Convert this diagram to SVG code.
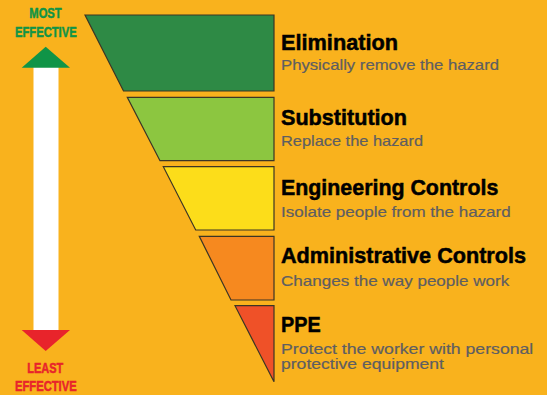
<svg xmlns="http://www.w3.org/2000/svg" width="547" height="395" viewBox="0 0 547 395">
<style>
.band{stroke:#3b3526;stroke-width:1.2;stroke-linejoin:miter}
.title{font-family:"Liberation Sans",Arial,sans-serif;font-weight:bold;font-size:22px;fill:#000;stroke:#000;stroke-width:0.5}
.sub{font-family:"Liberation Sans",Arial,sans-serif;font-size:15px;fill:#5e5e62;stroke:#5e5e62;stroke-width:0.2}
.lbl{font-family:"Liberation Sans",Arial,sans-serif;font-weight:bold;font-size:15px;text-anchor:start;stroke-width:0.5}
</style>
<rect width="547" height="395" fill="#f9b21d"/>
<g id="scale">
<rect x="33.5" y="67" width="25" height="263" fill="#ffffff"/>
<polygon points="45.7,46.7 70,67.7 21.7,67.7" fill="#109447"/>
<polygon points="21.7,330 70,330 45.7,351" fill="#e8242b"/>
<text class="lbl" x="29.3" y="18.3" fill="#109447" stroke="#109447" textLength="32.4" lengthAdjust="spacingAndGlyphs">MOST</text>
<text class="lbl" x="15" y="36.5" fill="#109447" stroke="#109447" textLength="61.7" lengthAdjust="spacingAndGlyphs">EFFECTIVE</text>
<text class="lbl" x="27.3" y="373.3" fill="#e8242b" stroke="#e8242b" textLength="36" lengthAdjust="spacingAndGlyphs">LEAST</text>
<text class="lbl" x="15" y="391" fill="#e8242b" stroke="#e8242b" textLength="61.7" lengthAdjust="spacingAndGlyphs">EFFECTIVE</text>
</g>
<g id="elimination">
<polygon class="band" points="85,15 274,15 274,91 123.5,91" fill="#2e8a45"/>
<text class="title" x="281" y="50" textLength="117" lengthAdjust="spacingAndGlyphs">Elimination</text>
<text class="sub" x="281" y="70" textLength="218" lengthAdjust="spacingAndGlyphs">Physically remove the hazard</text>
</g>
<g id="substitution">
<polygon class="band" points="127.3,97.3 274,97.3 274,160.7 160,160.7" fill="#8cc640"/>
<text class="title" x="281" y="125" textLength="126" lengthAdjust="spacingAndGlyphs">Substitution</text>
<text class="sub" x="281" y="146" textLength="142" lengthAdjust="spacingAndGlyphs">Replace the hazard</text>
</g>
<g id="engineering">
<polygon class="band" points="163.3,166.7 274,166.7 274,230 195.7,230" fill="#fcdd1a"/>
<text class="title" x="281" y="195" textLength="217.3" lengthAdjust="spacingAndGlyphs">Engineering Controls</text>
<text class="sub" x="281" y="217.3" textLength="229.7" lengthAdjust="spacingAndGlyphs">Isolate people from the hazard</text>
</g>
<g id="administrative">
<polygon class="band" points="199.3,236.3 274,236.3 274,300 231,300" fill="#f6891f"/>
<text class="title" x="281" y="263.3" textLength="245" lengthAdjust="spacingAndGlyphs">Administrative Controls</text>
<text class="sub" x="281" y="285.7" textLength="228.3" lengthAdjust="spacingAndGlyphs">Changes the way people work</text>
</g>
<g id="ppe">
<polygon class="band" points="235,305.7 274,305.7 274,381.7" fill="#ef5128"/>
<text class="title" x="281" y="331.7" textLength="39.7" lengthAdjust="spacingAndGlyphs">PPE</text>
<text class="sub" x="281" y="354" textLength="252.3" lengthAdjust="spacingAndGlyphs">Protect the worker with personal</text>
<text class="sub" x="281" y="369.3" textLength="163" lengthAdjust="spacingAndGlyphs">protective equipment</text>
</g>
<g id="connectors"></g>
</svg>
